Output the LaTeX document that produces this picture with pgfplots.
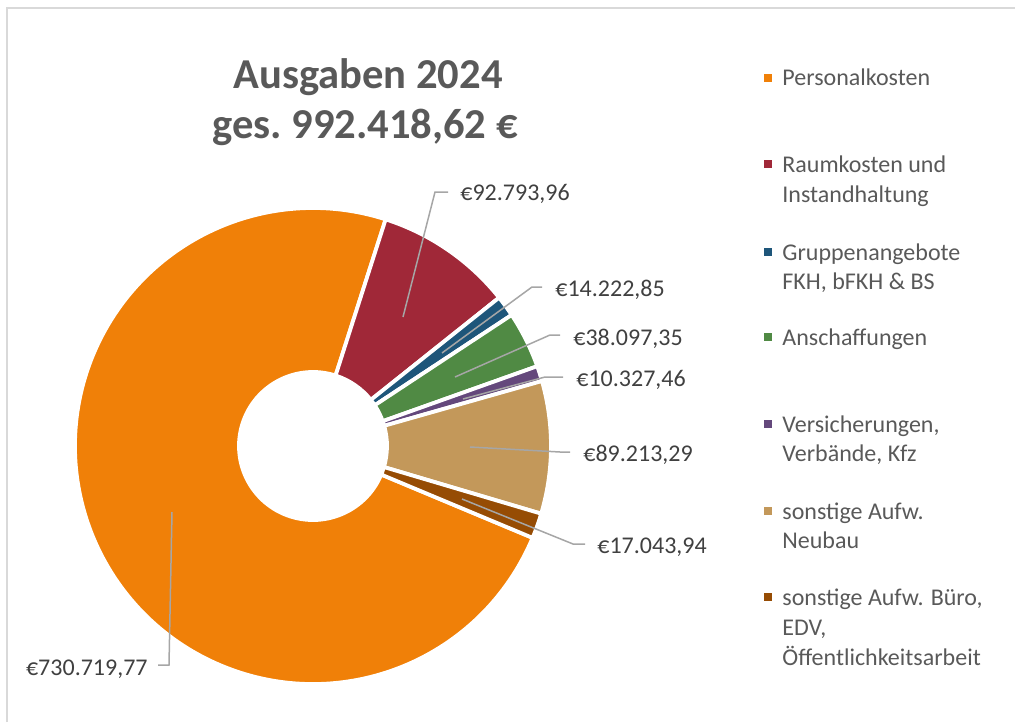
\documentclass[border=0pt]{standalone}
\usepackage{fontspec}
\setmainfont{Carlito}
\usepackage{pgfplots}
\usepackage{pgfplotstable}
\pgfplotsset{compat=1.18}

\definecolor{cOrange}{RGB}{240,128,8}
\definecolor{cRed}{RGB}{160,40,56}
\definecolor{cBlue}{RGB}{30,86,122}
\definecolor{cGreen}{RGB}{80,138,68}
\definecolor{cPurple}{RGB}{100,72,124}
\definecolor{cTan}{RGB}{195,152,90}
\definecolor{cBrown}{RGB}{150,76,4}
\definecolor{titlegrey}{RGB}{89,89,89}
\definecolor{labelgrey}{RGB}{64,64,64}
\definecolor{leadgrey}{RGB}{166,166,166}
\definecolor{framegrey}{RGB}{217,217,217}

\newcommand\titlefont{\fontsize{21.3}{25}\selectfont\bfseries}
\newcommand\labelfont{\fontsize{12}{14}\selectfont}
\newcommand\legfont{\fontsize{12}{14.5}\selectfont}

\pgfkeys{/pgf/number format/.cd, fixed, precision=2, fixed zerofill,
  1000 sep={.}, dec sep={,}, assume math mode=true}

% value, slice colour, label baseline point, leader line (in slice -> knee -> end x)
\pgfplotstableread{
value     colour  lx  ly  anc  px  py  kx  ky  ex
730719.77 cOrange 148 675 east 172 512 169 665 158
92793.96  cRed    460 200 west 403 317 435 192 448
14222.85  cBlue   555 296 west 442 353 532 287 542
38097.35  cGreen  573 345 west 455 377 550 335 560
10327.46  cPurple 576 386 west 463 399 545 377 563
89213.29  cTan    583 461 west 470 447 560 452 570
17043.94  cBrown  597 553 west 462 499 573 544 585
}\expenses

\newcommand\grab[2]{\pgfplotstablegetelem{#1}{#2}\of\expenses
  \expandafter\edef\csname s#2#1\endcsname{\pgfplotsretval}}

\begin{document}
\begin{tikzpicture}
% total and slice angles (clockwise, first slice starts at -22.7 deg)
\def\total{0}
\pgfplotsforeachungrouped \i in {0,...,6}{%
  \pgfplotstablegetelem{\i}{value}\of\expenses
  \edef\total{\fpeval{\total+\pgfplotsretval}}%
}
\def\cum{0}
\def\startang{-22.7}
\pgfplotsforeachungrouped \i in {0,...,6}{%
  \pgfplotstablegetelem{\i}{value}\of\expenses
  \let\v\pgfplotsretval
  \expandafter\edef\csname sA\i\endcsname{\fpeval{\startang-360*\cum/\total}}%
  \edef\cum{\fpeval{\cum+\v}}%
  \expandafter\edef\csname sB\i\endcsname{\fpeval{\startang-360*\cum/\total}}%
  \expandafter\edef\csname sV\i\endcsname{\v}%
  \grab{\i}{colour}\grab{\i}{lx}\grab{\i}{ly}\grab{\i}{anc}%
  \grab{\i}{px}\grab{\i}{py}\grab{\i}{kx}\grab{\i}{ky}\grab{\i}{ex}%
}
\begin{axis}[x=0.5pt, y=0.5pt, y dir=reverse,
  xmin=0, xmax=1015, ymin=0, ymax=722,
  hide axis, clip=false, enlargelimits=false]
% doughnut
\pgfplotsinvokeforeach{0,...,6}{%
  \edef\temp{\noexpand\filldraw[fill=\csname scolour#1\endcsname, draw=white, line width=1.9pt]
    (axis cs:313,446) ++(\csname sA#1\endcsname:119pt)
    arc[start angle=\csname sA#1\endcsname, end angle=\csname sB#1\endcsname, radius=119pt]
    -- ++(\csname sB#1\endcsname:-82pt)
    arc[start angle=\csname sB#1\endcsname, end angle=\csname sA#1\endcsname, radius=37pt]
    -- cycle;}%
  \temp
}
% leader lines and value labels
\pgfplotsinvokeforeach{0,...,6}{%
  \edef\temp{\noexpand\draw[leadgrey, line width=0.75pt]
    (axis cs:\csname spx#1\endcsname,\csname spy#1\endcsname)
    -- (axis cs:\csname skx#1\endcsname,\csname sky#1\endcsname)
    -- (axis cs:\csname sex#1\endcsname,\csname sky#1\endcsname);}%
  \temp
  \edef\temp{\noexpand\node[anchor=base \csname sanc#1\endcsname, inner sep=0pt,
    text=labelgrey, font=\noexpand\labelfont]
    at (axis cs:\csname slx#1\endcsname,\csname sly#1\endcsname)
    {€\noexpand\pgfmathprintnumber{\csname sV#1\endcsname}};}%
  \temp
}
% title
\node[anchor=base, inner sep=0pt, text=titlegrey, font=\titlefont] at (axis cs:368,89) {Ausgaben 2024};
\node[anchor=base, inner sep=0pt, text=titlegrey, font=\titlefont] at (axis cs:365,138) {ges.\ \pgfmathprintnumber{\total} €};
% legend
\fill[cOrange] (axis cs:764,74) rectangle (axis cs:772,82);
\node[anchor=base west, inner sep=0pt, text=titlegrey, font=\legfont] at (axis cs:782,86) {Personalkosten};
\fill[cRed] (axis cs:764,160) rectangle (axis cs:772,168);
\node[anchor=base west, inner sep=0pt, text=titlegrey, font=\legfont] at (axis cs:782,172) {Raumkosten und};
\node[anchor=base west, inner sep=0pt, text=titlegrey, font=\legfont] at (axis cs:782,202) {Instandhaltung};
\fill[cBlue] (axis cs:764,248) rectangle (axis cs:772,256);
\node[anchor=base west, inner sep=0pt, text=titlegrey, font=\legfont] at (axis cs:782,260) {Gruppenangebote};
\node[anchor=base west, inner sep=0pt, text=titlegrey, font=\legfont] at (axis cs:782,289) {FKH, bFKH \& BS};
\fill[cGreen] (axis cs:764,333) rectangle (axis cs:772,341);
\node[anchor=base west, inner sep=0pt, text=titlegrey, font=\legfont] at (axis cs:782,345) {Anschaffungen};
\fill[cPurple] (axis cs:764,420) rectangle (axis cs:772,428);
\node[anchor=base west, inner sep=0pt, text=titlegrey, font=\legfont] at (axis cs:782,432) {Versicherungen,};
\node[anchor=base west, inner sep=0pt, text=titlegrey, font=\legfont] at (axis cs:782,461) {Verbände, Kfz};
\fill[cTan] (axis cs:764,507) rectangle (axis cs:772,515);
\node[anchor=base west, inner sep=0pt, text=titlegrey, font=\legfont] at (axis cs:782,519) {sonstige Aufw.};
\node[anchor=base west, inner sep=0pt, text=titlegrey, font=\legfont] at (axis cs:782,548) {Neubau};
\fill[cBrown] (axis cs:764,593) rectangle (axis cs:772,601);
\node[anchor=base west, inner sep=0pt, text=titlegrey, font=\legfont] at (axis cs:782,605) {sonstige Aufw. Büro,};
\node[anchor=base west, inner sep=0pt, text=titlegrey, font=\legfont] at (axis cs:782,635) {EDV,};
\node[anchor=base west, inner sep=0pt, text=titlegrey, font=\legfont] at (axis cs:782,665) {Öffentlichkeitsarbeit};
% chart frame (top and left edges visible)
\draw[framegrey, line width=1pt] (axis cs:7,722) -- (axis cs:7,8) -- (axis cs:1015,8);
\end{axis}
\pgfresetboundingbox
\path (current axis.south west) rectangle (current axis.north east);
\end{tikzpicture}
\end{document}
